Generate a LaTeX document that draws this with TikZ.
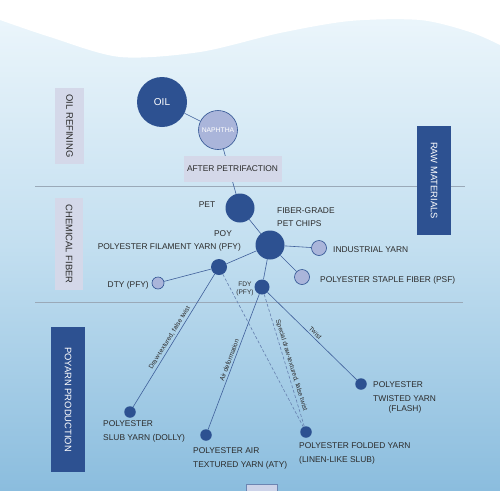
\documentclass[tikz,border=0pt]{standalone}
\usepackage{fontspec}
\setmainfont{Liberation Sans}
\definecolor{dblue}{HTML}{2D5191}
\definecolor{lnode}{HTML}{AAB5DA}
\definecolor{lav}{HTML}{D4D8E9}
\definecolor{txt}{HTML}{2B2B2B}
\definecolor{edgec}{HTML}{3F5F9A}
\definecolor{hline}{HTML}{9AA9B8}
\definecolor{bgtop}{HTML}{EEF7FC}
\definecolor{bgmid}{HTML}{C3DFF0}
\definecolor{bgbot}{HTML}{8BBDDE}
\begin{document}
\begin{tikzpicture}[x=1pt,y=-1pt,
 dnode/.style={circle, fill=dblue, inner sep=0pt, minimum size=#1},
 lnodes/.style={circle, fill=lnode, draw=dblue, line width=0.6pt, inner sep=0pt, minimum size=#1},
 lab/.style={inner sep=0pt, text=txt, font=\fontsize{8.4}{14}\selectfont},
 sidebox/.style={rotate=-90, inner sep=0pt, font=\fontsize{9.4}{11}\selectfont},
 conn/.style={draw=edgec, line width=0.6pt},
 dconn/.style={draw=edgec!80, line width=0.6pt, dash pattern=on 3pt off 2pt},
 elab/.style={sloped, above, inner sep=2pt, text=txt, font=\fontsize{6.5}{7.5}\selectfont}
]
\useasboundingbox (0,0) rectangle (500,490);
\shade[top color=bgtop, bottom color=bgbot, middle color=bgmid] (0,0) rectangle (500,490);
\fill[white] (0,0) -- plot[smooth] coordinates {(0,20)(50,37)(120,57)(200,52)(280,33)(350,21)(420,20)(470,32)(500,45)} -- (500,0) -- cycle;

% section lines
\coordinate (h1a) at (35,186); \coordinate (h1b) at (465,186);
\coordinate (h2a) at (35,302); \coordinate (h2b) at (463,302);
\draw[hline, line width=0.8pt] (h1a) -- (h1b);
\draw[hline, line width=0.8pt] (h2a) -- (h2b);

% side boxes
\node[sidebox, fill=lav, text=txt, minimum width=76pt, minimum height=29pt] (oilref) at (69.5,126) {OIL REFINING};
\node[sidebox, fill=lav, text=txt, minimum width=92pt, minimum height=28pt] (chem) at (69,244) {CHEMICAL FIBER};
\node[sidebox, fill=dblue, text=white, minimum width=145pt, minimum height=34pt] (poyarn) at (68,399.5) {POYARN PRODUCTION};
\node[sidebox, fill=dblue, text=white, minimum width=109pt, minimum height=34pt] (raw) at (434,180.5) {RAW MATERIALS};

% nodes
\node[dnode=50pt, text=white, font=\fontsize{10}{12}\selectfont] (oil) at (162,102) {OIL};
\node[lnodes=39pt, text=white, font=\fontsize{6.8}{8}\selectfont] (naph) at (218,130) {NAPHTHA};
\node[dnode=29pt] (pet) at (240,208) {};
\node[dnode=29pt] (chips) at (270,245) {};
\node[dnode=16pt] (pfy) at (219,267) {};
\node[lnodes=15pt] (ind) at (319,248) {};
\node[lnodes=15pt] (psf) at (302,277) {};
\node[lnodes=12pt] (dty) at (158,283) {};
\node[dnode=15pt] (fdy) at (262,287) {};
\node[dnode=11.5pt] (slub) at (130,412) {};
\node[dnode=11.5pt] (aty) at (206,435) {};
\node[dnode=11.5pt] (fold) at (306,432) {};
\node[dnode=11.5pt] (flash) at (361,384) {};

% connectors
\draw[conn] (oil) -- (naph);
\draw[conn] (naph) -- (pet);
\node[fill=lav, minimum width=98pt, minimum height=26pt, lab] (after) at (232.5,169) {AFTER PETRIFACTION};
\draw[conn] (pet) -- (chips);
\draw[conn] (chips) -- (pfy);
\draw[conn] (chips) -- (ind);
\draw[conn] (chips) -- (psf);
\draw[conn] (chips) -- (fdy);
\draw[conn] (pfy) -- (dty);
\draw[conn] (pfy) -- node[elab, pos=0.5] {Draw-textured, false twist} (slub);
\draw[dconn] (pfy) -- (fold);
\draw[conn] (fdy) -- node[elab, pos=0.5] {Air deformation} (aty);
\draw[dconn] (fdy) -- node[elab, pos=0.55] {Special draw-textured, false twist} (fold);
\draw[conn] (fdy) -- node[elab, pos=0.5] {Twist} (flash);

% labels
\node[lab] (petl) at (207,205) {PET};
\node[lab, anchor=west] (fg) at (277,211) {FIBER-GRADE};
\node[lab, anchor=west] (pc) at (277,224) {PET CHIPS};
\node[lab] (poyl) at (223,234) {POY};
\node[lab, anchor=east] (pfyl) at (241,247) {POLYESTER FILAMENT YARN (PFY)};
\node[lab, anchor=west] (indl) at (333,250) {INDUSTRIAL YARN};
\node[lab, anchor=west] (psfl) at (320,280) {POLYESTER STAPLE FIBER (PSF)};
\node[lab, anchor=east] (dtyl) at (149,285) {DTY (PFY)};
\node[lab, align=center, font=\fontsize{6.6}{7.6}\selectfont] (fdyl) at (245,289) {FDY\\(PFY)};

\node[lab, anchor=west, align=left] (slubl) at (103,431) {POLYESTER\\SLUB YARN (DOLLY)};
\node[lab, anchor=west, align=left] (atyl) at (193,458) {POLYESTER AIR\\TEXTURED YARN (ATY)};
\node[lab, anchor=west, align=left] (foldl) at (299,453) {POLYESTER FOLDED YARN\\(LINEN-LIKE SLUB)};
\node[lab, anchor=west, align=left] (flashl) at (373,392) {POLYESTER\\TWISTED YARN};
\node[lab] (flashl2) at (405,409) {(FLASH)};

% bottom tab
\node[draw=dblue!70, fill=lnode!60, minimum width=31pt, minimum height=10pt, inner sep=0pt, line width=0.8pt] (btm) at (261.5,489) {};
\end{tikzpicture}
\end{document}
